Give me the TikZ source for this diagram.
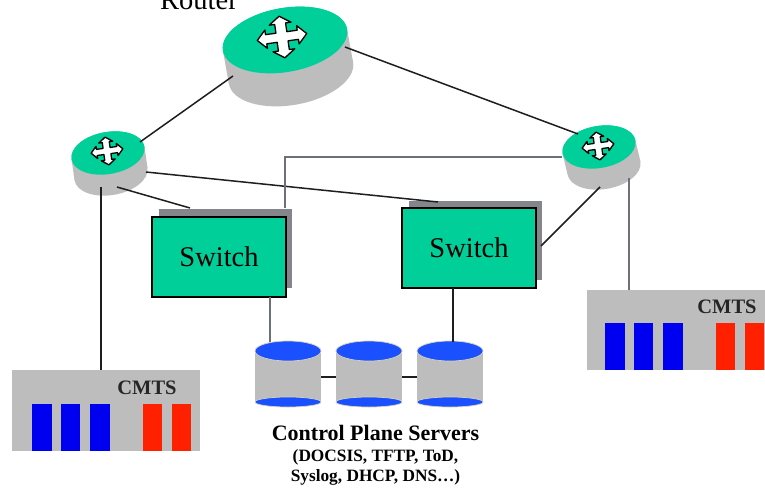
\documentclass[tikz,border=0pt]{standalone}
\usepackage{fontspec}
\setmainfont{Liberation Serif}
\usetikzlibrary{shapes.geometric}
\definecolor{rgreen}{HTML}{00CF9A}
\definecolor{bodygray}{HTML}{BDBDBD}
\definecolor{shadowgray}{HTML}{85858C}
\definecolor{wireblack}{HTML}{1E1E1E}
\definecolor{wiregray}{HTML}{6C7078}
\definecolor{discblue}{HTML}{1A50FF}
\definecolor{barblue}{HTML}{0000F0}
\definecolor{barred}{HTML}{FF2000}
\definecolor{paleedge}{HTML}{D8D2B8}
\tikzset{
  plain/.style={inner sep=0pt,outer sep=0pt},
  topdisc/.style={plain,ellipse,fill=rgreen,rotate=10},
  lowdisc/.style={plain,ellipse,fill=bodygray,rotate=10},
  swbox/.style={plain,rectangle,fill=rgreen,draw=black,line width=1.2pt,minimum width=134pt,minimum height=80pt,font=\fontsize{28.5}{28.5}\selectfont},
  swshadow/.style={plain,rectangle,fill=shadowgray,minimum width=133pt,minimum height=79pt},
  cmtsbox/.style={plain,rectangle,fill=bodygray,anchor=north west},
  barb/.style={plain,rectangle,fill=barblue,anchor=north west,minimum width=19.5pt,minimum height=47pt},
  barr/.style={plain,rectangle,fill=barred,anchor=north west,minimum width=19pt,minimum height=47pt},
  dbody/.style={plain,rectangle,fill=bodygray,minimum width=66pt,minimum height=51pt},
  dtop/.style={plain,ellipse,fill=discblue,draw=paleedge,line width=.7pt,minimum width=66pt,minimum height=20pt},
  dbot/.style={plain,ellipse,fill=discblue,draw=paleedge,line width=.7pt,minimum width=66pt,minimum height=10pt},
  blk/.style={draw=wireblack,line width=1.5pt},
  gry/.style={draw=wiregray,line width=1.5pt},
  cmtslabel/.style={plain,font=\fontsize{20.5}{20.5}\selectfont\bfseries,text=black!85},
  arrowcross/.style={fill=white,draw=black,line width=1.3pt,line join=round}
}
\newcommand{\crossicon}[5]{%
  \draw[arrowcross,shift={(#1,#2)},rotate=#5,xscale=#3,yscale=#4]
    (1,0)--(.64,.44)--(.64,.22)--(.22,.22)--(.22,.64)--(.44,.64)--(0,1)--(-.44,.64)--(-.22,.64)--(-.22,.22)--(-.64,.22)--(-.64,.44)
    --(-1,0)--(-.64,-.44)--(-.64,-.22)--(-.22,-.22)--(-.22,-.64)--(-.44,-.64)--(0,-1)--(.44,-.64)--(.22,-.64)--(.22,-.22)--(.64,-.22)--(.64,-.44)--cycle;}
\begin{document}
\begin{tikzpicture}[x=1pt,y=-1pt]
\useasboundingbox (0,0) rectangle (765,487);
\fill[white] (0,0) rectangle (765,487);

% main router
\node[lowdisc,minimum width=126pt,minimum height=64pt] (rmainlow) at (291,73) {};
\node[topdisc,minimum width=126pt,minimum height=64pt] (rmain) at (285,40) {};
\fill[bodygray] (rmain.west)--(rmain.east)--(rmainlow.east)--(rmainlow.west)--cycle;
\node[topdisc,minimum width=126pt,minimum height=64pt] at (285,40) {};
\crossicon{282}{37}{25}{21}{8}
\node[plain,font=\fontsize{28.5}{28.5}\selectfont,anchor=base] (rlabel) at (199,10) {Router};

% left router
\node[lowdisc,minimum width=74pt,minimum height=42pt] (rleftlow) at (111,174) {};
\node[topdisc,minimum width=74pt,minimum height=42pt] (rleft) at (108,153) {};
\fill[bodygray] (rleft.west)--(rleft.east)--(rleftlow.east)--(rleftlow.west)--cycle;
\node[topdisc,minimum width=74pt,minimum height=42pt] at (108,153) {};
\crossicon{107}{151}{16}{14}{8}

% right router
\node[lowdisc,minimum width=74pt,minimum height=42pt] (rrightlow) at (604,168) {};
\node[topdisc,minimum width=74pt,minimum height=42pt] (rright) at (599,147) {};
\fill[bodygray] (rright.west)--(rright.east)--(rrightlow.east)--(rrightlow.west)--cycle;
\node[topdisc,minimum width=74pt,minimum height=42pt] at (599,147) {};
\crossicon{598}{146}{16}{14}{8}

% switches
\node[swshadow] (swaback) at (225,248) {};
\node[swbox] (swa) at (219,257) {Switch};
\node[swshadow] (swbback) at (475.5,240.5) {};
\node[swbox] (swb) at (469,248) {Switch};

% CMTS left
\node[cmtsbox,minimum width=188pt,minimum height=81pt] (cmtsl) at (12,370) {};
\node[cmtslabel] (cmtsltext) at (147,388) {CMTS};
\node[barb] (lb1) at (32,404) {};
\node[barb] (lb2) at (60.5,404) {};
\node[barb] (lb3) at (90,404) {};
\node[barr] (lr1) at (143,404) {};
\node[barr] (lr2) at (172,404) {};

% CMTS right
\node[cmtsbox,minimum width=178pt,minimum height=80pt] (cmtsr) at (587,290) {};
\node[cmtslabel] (cmtsrtext) at (727,307) {CMTS};
\node[barb] (rb1) at (605,323) {};
\node[barb] (rb2) at (633.5,323) {};
\node[barb] (rb3) at (663,323) {};
\node[barr] (rr1) at (716,323) {};
\node[barr] (rr2) at (745,323) {};

% servers
\foreach \nm/\cx in {sa/288,sb/369,sc/450}{
  \node[dbody] (\nm) at (\cx,376.5) {};
  \node[dbot] (\nm bot) at (\cx,402) {};
  \node[dtop] (\nm top) at (\cx,351) {};
}
\node[plain,font=\fontsize{22}{22}\selectfont\bfseries] (cplabel) at (375.5,433) {Control Plane Servers};
\node[plain,font=\fontsize{17.3}{17.3}\selectfont\bfseries] (cpsub1) at (375.5,457) {(DOCSIS, TFTP, ToD,};
\node[plain,font=\fontsize{17.3}{17.3}\selectfont\bfseries] (cpsub2) at (375.5,477) {Syslog, DHCP, DNS\dots)};

% connector ends
\coordinate (mainsw) at (233,76);
\coordinate (leftne) at (140,142);
\coordinate (mainse) at (345,47);
\coordinate (rightnw) at (578,134);
\coordinate (lefte) at (146,172);
\coordinate (swbtop) at (438,202);
\coordinate (lefts) at (117,187);
\coordinate (swatop) at (190,208);
\coordinate (rightw) at (562,157);
\coordinate (bend) at (285,157);
\coordinate (swatopr) at (285,208);
\coordinate (rights) at (600,187);
\coordinate (swbe) at (541,246);
\coordinate (rightb) at (629,178);
\coordinate (cmtsrt) at (629,290);
\coordinate (leftb) at (101,187);
\coordinate (cmtslt) at (101,370);
\coordinate (swabot) at (270,297);
\coordinate (satopc) at (270,342);
\coordinate (swbbot) at (453,288);
\coordinate (sctopc) at (453,342);

% connectors
\draw[blk] (mainsw)--(leftne);
\draw[blk] (mainse)--(rightnw);
\draw[blk] (lefte)--(swbtop);
\draw[blk] (lefts)--(swatop);
\draw[gry] (rightw)--(bend)--(swatopr);
\draw[blk] (rights)--(swbe);
\draw[gry] (rightb)--(cmtsrt);
\draw[blk] (leftb)--(cmtslt);
\draw[gry] (swabot)--(satopc);
\draw[blk] (swbbot)--(sctopc);
\draw[blk] (sa.east |- 0,377)--(sb.west |- 0,377);
\draw[blk] (sb.east |- 0,377)--(sc.west |- 0,377);
\end{tikzpicture}
\end{document}
